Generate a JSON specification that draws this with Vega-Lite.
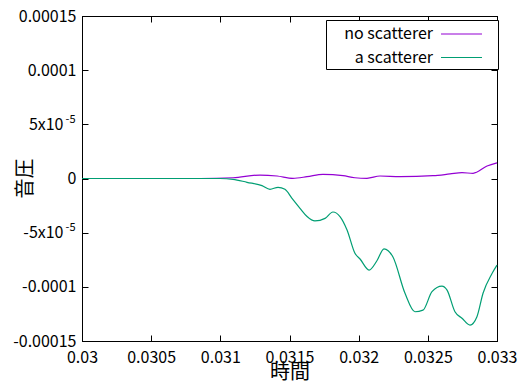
{
  "$schema": "https://vega.github.io/schema/vega-lite/v6.json",
  "width": 415,
  "height": 325,
  "autosize": {"type": "none"},
  "padding": {"left": 82, "top": 16, "right": 30, "bottom": 42},
  "background": "white",
  "config": {
    "font": "Noto Sans CJK JP",
    "view": {"stroke": "black", "strokeWidth": 1},
    "axis": {
      "grid": false,
      "domainColor": "black",
      "tickColor": "black",
      "tickSize": -6,
      "labelColor": "black",
      "labelFont": "Noto Sans CJK JP",
      "labelFontSize": 16,
      "labelFlush": false,
      "labelOverlap": false,
      "titleFont": "Noto Sans CJK JP",
      "titleFontSize": 20,
      "titleFontWeight": "normal",
      "titleColor": "black"
    },
    "legend": {
      "orient": "none",
      "legendX": 244,
      "legendY": 4,
      "strokeColor": "black",
      "fillColor": "white",
      "padding": 3,
      "symbolType": "M-2,0H2M3,0H3",
      "symbolSize": 420,
      "symbolStrokeWidth": 1.2,
      "labelFont": "Noto Sans CJK JP",
      "labelFontSize": 16,
      "labelColor": "black",
      "labelAlign": "right",
      "labelOffset": -39.5,
      "symbolOffset": 121.5,
      "rowPadding": 4.5
    }
  },
  "data": {
    "values": [
      {"t": 0.03, "p": 0, "series": "no scatterer"},
      {"t": 0.030853, "p": 0, "series": "no scatterer"},
      {"t": 0.031092, "p": 0.0000007, "series": "no scatterer"},
      {"t": 0.031287, "p": 0.0000032, "series": "no scatterer"},
      {"t": 0.03141, "p": 0.0000023, "series": "no scatterer"},
      {"t": 0.031525, "p": 0.0000002, "series": "no scatterer"},
      {"t": 0.031627, "p": 0.0000017, "series": "no scatterer"},
      {"t": 0.031742, "p": 0.0000039, "series": "no scatterer"},
      {"t": 0.031887, "p": 0.0000026, "series": "no scatterer"},
      {"t": 0.031973, "p": 0.0000007, "series": "no scatterer"},
      {"t": 0.03206, "p": 0.0000002, "series": "no scatterer"},
      {"t": 0.032154, "p": 0.0000023, "series": "no scatterer"},
      {"t": 0.032299, "p": 0.0000017, "series": "no scatterer"},
      {"t": 0.032537, "p": 0.0000026, "series": "no scatterer"},
      {"t": 0.03266, "p": 0.0000042, "series": "no scatterer"},
      {"t": 0.032747, "p": 0.0000054, "series": "no scatterer"},
      {"t": 0.032827, "p": 0.0000048, "series": "no scatterer"},
      {"t": 0.032928, "p": 0.0000115, "series": "no scatterer"},
      {"t": 0.033, "p": 0.0000145, "series": "no scatterer"},
      {"t": 0.03, "p": 0, "series": "a scatterer"},
      {"t": 0.030853, "p": 0, "series": "a scatterer"},
      {"t": 0.030998, "p": 0, "series": "a scatterer"},
      {"t": 0.031092, "p": -0.00000074, "series": "a scatterer"},
      {"t": 0.031193, "p": -0.0000035, "series": "a scatterer"},
      {"t": 0.031301, "p": -0.0000066, "series": "a scatterer"},
      {"t": 0.031359, "p": -0.00001, "series": "a scatterer"},
      {"t": 0.031417, "p": -0.0000081, "series": "a scatterer"},
      {"t": 0.031467, "p": -0.00001, "series": "a scatterer"},
      {"t": 0.031518, "p": -0.0000183, "series": "a scatterer"},
      {"t": 0.031576, "p": -0.0000275, "series": "a scatterer"},
      {"t": 0.031627, "p": -0.0000351, "series": "a scatterer"},
      {"t": 0.031684, "p": -0.0000392, "series": "a scatterer"},
      {"t": 0.031757, "p": -0.0000368, "series": "a scatterer"},
      {"t": 0.031814, "p": -0.0000309, "series": "a scatterer"},
      {"t": 0.031865, "p": -0.0000351, "series": "a scatterer"},
      {"t": 0.031916, "p": -0.0000475, "series": "a scatterer"},
      {"t": 0.031973, "p": -0.000069, "series": "a scatterer"},
      {"t": 0.03201, "p": -0.0000743, "series": "a scatterer"},
      {"t": 0.032075, "p": -0.0000845, "series": "a scatterer"},
      {"t": 0.032133, "p": -0.0000757, "series": "a scatterer"},
      {"t": 0.032183, "p": -0.0000649, "series": "a scatterer"},
      {"t": 0.032248, "p": -0.0000725, "series": "a scatterer"},
      {"t": 0.032335, "p": -0.000106, "series": "a scatterer"},
      {"t": 0.032407, "p": -0.000123, "series": "a scatterer"},
      {"t": 0.032465, "p": -0.0001215, "series": "a scatterer"},
      {"t": 0.03253, "p": -0.0001045, "series": "a scatterer"},
      {"t": 0.032602, "p": -0.0000993, "series": "a scatterer"},
      {"t": 0.032639, "p": -0.000103, "series": "a scatterer"},
      {"t": 0.032696, "p": -0.000123, "series": "a scatterer"},
      {"t": 0.032747, "p": -0.000129, "series": "a scatterer"},
      {"t": 0.032805, "p": -0.0001353, "series": "a scatterer"},
      {"t": 0.032855, "p": -0.0001276, "series": "a scatterer"},
      {"t": 0.032899, "p": -0.0001059, "series": "a scatterer"},
      {"t": 0.032964, "p": -0.0000877, "series": "a scatterer"},
      {"t": 0.033, "p": -0.00008, "series": "a scatterer"}
    ]
  },
  "layer": [
    {
      "mark": {"type": "line", "strokeWidth": 1.2, "interpolate": "monotone"},
      "encoding": {
        "x": {
          "field": "t", "type": "quantitative",
          "scale": {"domain": [0.03, 0.033], "nice": false, "zero": false},
          "axis": {
            "title": "時間",
            "values": [0.03, 0.0305, 0.031, 0.0315, 0.032, 0.0325, 0.033],
            "format": ".4~f",
            "labelPadding": 14,
            "titleY": 21,
            "titleBaseline": "top"
          }
        },
        "y": {
          "field": "p", "type": "quantitative",
          "scale": {"domain": [-0.00015, 0.00015], "nice": false, "zero": false},
          "axis": {
            "title": "音圧",
            "values": [-0.00015, -0.0001, -0.00005, 0, 0.00005, 0.0001, 0.00015],
            "labelExpr": "datum.value == 0.00015 ? '0.00015' : datum.value == 0.0001 ? '0.0001' : datum.value == 0 ? '0' : datum.value == -0.0001 ? '-0.0001' : datum.value == -0.00015 ? '-0.00015' : ''",
            "labelPadding": 12,
            "titleX": -47,
            "titleY": 162,
            "titleAngle": -90
          }
        },
        "color": {
          "field": "series", "type": "nominal",
          "scale": {"domain": ["no scatterer", "a scatterer"], "range": ["#9400d3", "#009e73"]},
          "legend": {"title": null}
        }
      }
    },
    {
      "mark": {"type": "line", "opacity": 0},
      "encoding": {
        "x": {
          "field": "t", "type": "quantitative",
          "axis": {
            "orient": "top", "title": null, "labels": false,
            "values": [0.03, 0.0305, 0.031, 0.0315, 0.032, 0.0325, 0.033]
          }
        },
        "y": {
          "field": "p", "type": "quantitative",
          "axis": {
            "orient": "right", "title": null, "labels": false,
            "values": [-0.00015, -0.0001, -0.00005, 0, 0.00005, 0.0001, 0.00015]
          }
        },
        "detail": {"field": "series"}
      }
    },
    {
      "mark": {"type": "line", "opacity": 0},
      "encoding": {
        "x": {"field": "t", "type": "quantitative", "axis": null},
        "y": {
          "field": "p", "type": "quantitative",
          "axis": {
            "orient": "left", "title": null, "ticks": false, "domain": false,
            "values": [-0.00005, 0.00005],
            "labelExpr": "datum.value > 0 ? '5x10' : '-5x10'",
            "labelPadding": 19
          }
        },
        "detail": {"field": "series"}
      }
    },
    {
      "mark": {"type": "line", "opacity": 0},
      "encoding": {
        "x": {"field": "t", "type": "quantitative", "axis": null},
        "y": {
          "field": "p", "type": "quantitative",
          "axis": {
            "orient": "left", "title": null, "ticks": false, "domain": false,
            "values": [-0.00005, 0.00005],
            "labelExpr": "'-5'",
            "labelFontSize": 11,
            "labelOffset": -5,
            "labelPadding": 7
          }
        },
        "detail": {"field": "series"}
      }
    }
  ],
  "resolve": {"axis": {"x": "independent", "y": "independent"}}
}
